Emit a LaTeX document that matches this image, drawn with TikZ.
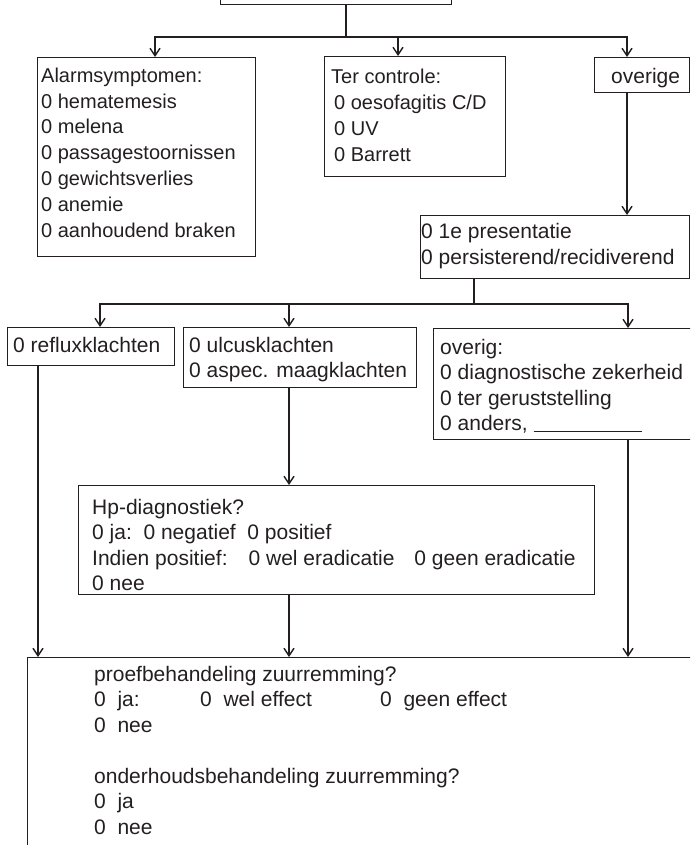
\documentclass[tikz,border=0pt]{standalone}
\usepackage{fontspec}
\setmainfont{Liberation Sans}
\usetikzlibrary{arrows.meta}
\definecolor{ink}{RGB}{35,31,32}
\begin{document}
\begin{tikzpicture}[x=1pt,y=-1pt,
  box/.style={draw=ink,line width=1.3pt,rectangle,inner sep=0pt,anchor=north west},
  conn/.style={draw=ink,line width=2.2pt},
  arr/.style={conn,-{Straight Barb[length=7.5pt,width=10pt,line width=1.4pt]}},
  txt/.style={inner sep=0pt,anchor=north west,align=left,text=ink,font=\fontsize{21}{25.5}\selectfont},
  txtS/.style={txt,font=\fontsize{20}{25.8}\selectfont}]
\useasboundingbox (0,0) rectangle (690,845);
\clip (0,0) rectangle (690,845);
% boxes
\node[box,minimum width=231pt,minimum height=44pt] (top) at (220,-40) {};
\node[box,minimum width=218pt,minimum height=199pt] (alarm) at (37,57) {};
\node[box,minimum width=181pt,minimum height=120pt] (ter) at (324,56) {};
\node[box,minimum width=95pt,minimum height=35pt] (overige) at (594,57) {};
\node[box,minimum width=269pt,minimum height=63pt] (pres) at (420,215) {};
\node[box,minimum width=167pt,minimum height=38pt] (reflux) at (7,327) {};
\node[box,minimum width=233pt,minimum height=60pt] (ulcus) at (183,327) {};
\node[box,minimum width=280pt,minimum height=111pt] (overig) at (433,328) {};
\node[box,minimum width=690pt,minimum height=250pt] (bottom) at (27,657) {};
\node[box,minimum width=516pt,minimum height=109pt] (hp) at (78,485) {};
% texts
\node[txtS] (talarm) at (41,64) {\strut Alarmsymptomen:\\0 hematemesis\\0 melena\\0 passagestoornissen\\0 gewichtsverlies\\0 anemie\\0 aanhoudend braken};
\node[txtS] (tter) at (331,65.6) {\strut Ter controle:\\\hspace*{3pt}0 oesofagitis C/D\\\hspace*{3pt}0 UV\\\hspace*{3pt}0 Barrett};
\node[txt] (toverige) at (611,65.8) {\strut overige};
\node[txt] (tpres) at (421,220.8) {\strut 0 1e presentatie\\0 persisterend/recidiverend};
\node[txt] (treflux) at (13,334) {\strut 0 refluxklachten};
\node[txt] (tulcus) at (189,334) {\strut 0 ulcusklachten\\0 aspec. maagklachten};
\node[txt] (toverig) at (440,336) {\strut overig:\\0 diagnostische zekerheid\\0 ter geruststelling\\0 anders, \rule[-1pt]{108pt}{0.9pt}};
\node[txt] (thp) at (92,496) {\strut Hp-diagnostiek?\\0 ja:\ \ 0 negatief\ \ 0 positief\\Indien positief:\hspace{21pt}0 wel eradicatie\hspace{20pt}0 geen eradicatie\\0 nee};
\node[txt] (tbottom) at (94,663) {\strut proefbehandeling zuurremming?\\\makebox[106pt][l]{0\ \ ja:}\makebox[180pt][l]{0\ \ wel effect}0\ \ geen effect\\0\ \ nee\\[25.5pt]onderhoudsbehandeling zuurremming?\\0\ \ ja\\0\ \ nee};
% helper coordinates
\coordinate (s1) at (346,37);
\coordinate (s2) at (474,304);
\coordinate (xA) at (155,0);
\coordinate (xB) at (398,0);
\coordinate (xC) at (627,0);
\coordinate (xD) at (100,0);
\coordinate (xE) at (289,0);
\coordinate (xF) at (628,0);
\coordinate (xG) at (38,0);
% connectors
\draw[conn] (top.south -| s1) -- (s1);
\draw[arr] (s1) -| (alarm.north -| xA);
\draw[arr] (s1) -| (ter.north -| xB);
\draw[arr] (s1) -| (overige.north -| xC);
\draw[arr] (overige.south -| xC) -- (pres.north -| xC);
\draw[conn] (pres.south -| s2) -- (s2);
\draw[arr] (s2) -| (reflux.north -| xD);
\draw[arr] (s2) -| (ulcus.north -| xE);
\draw[arr] (s2) -| (overig.north -| xF);
\draw[arr] (reflux.south -| xG) -- (bottom.north -| xG);
\draw[arr] (ulcus.south -| xE) -- (hp.north -| xE);
\draw[arr] (hp.south -| xE) -- (bottom.north -| xE);
\draw[arr] (overig.south -| xF) -- (bottom.north -| xF);
\end{tikzpicture}
\end{document}
